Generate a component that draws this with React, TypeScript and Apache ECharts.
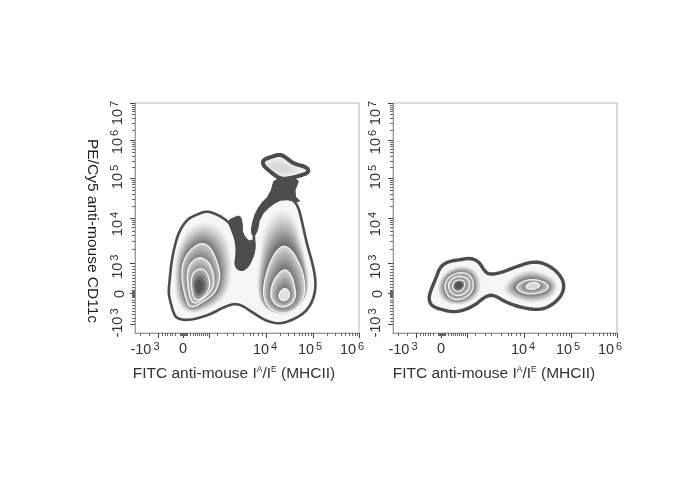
import React, { useEffect, useRef } from "react";
import * as echarts from "echarts";

type P = number[][];

// Channel scale: both plots run 0-672 across and 0-690 up.
const xMajorTicks = [70, 145, 223, 393, 535, 672];
const xMinorTicks = [15, 42, 82, 90, 97, 105, 113, 120, 135, 138, 141, 144, 147, 150, 153, 156, 165, 174, 180, 186, 192, 198, 204, 210, 216, 247, 277, 295, 325, 345, 355, 370, 382, 435, 459, 477, 492, 503, 512, 520, 528, 576, 600, 618, 630, 642, 651, 660, 666];
const yMajorTicks = [25, 118, 210, 345, 464, 577, 688];
const yMinorTicks = [36, 45, 57, 66, 75, 84, 93, 99, 108, 111, 114, 117, 120, 123, 126, 129, 138, 147, 156, 165, 174, 183, 192, 201, 252, 276, 294, 306, 318, 327, 333, 339, 381, 402, 417, 429, 438, 445, 451, 457, 496, 516, 531, 543, 552, 559, 565, 571, 609, 630, 645, 655, 664, 672, 678, 683];
const xLabelSpots = [30, 144, 390, 525, 651];
const xLabelTexts = ["-10{s|3}", "0", "10{s|4}", "10{s|5}", "{u|10}{v|6}"];
const yLabelSpots = [30, 117, 199, 327, 468, 573, 660];
const yLabelTexts = ["-10{s|3}", "0", "10{s|3}", "10{s|4}", "10{s|5}", "10{s|6}", "10{s|7}"];

// Panel 1 contours
const p1Body: P = [[101,130],[105,170],[109,210],[117,252],[127,290],[141,320],[161,344],[187,356],[215,366],[241,358],[270,342],[287,325],[300,290],[307,250],[302,210],[310,190],[330,190],[350,220],[360,260],[355,290],[363,330],[380,375],[410,398],[440,410],[470,404],[490,380],[502,330],[515,270],[535,200],[543,150],[537,105],[515,65],[475,40],[435,27],[395,35],[355,60],[310,90],[270,80],[225,55],[165,38],[127,42],[115,60],[102,110]];
const p1Blob: P = [[280,338],[295,345],[315,353],[322,330],[322,300],[340,275],[355,280],[360,260],[355,230],[335,195],[310,188],[298,205],[305,240],[302,280],[290,305]];
const p1Neck: P = [[420,468],[495,468],[475,415],[500,390],[445,403],[410,385],[375,350],[365,295],[347,295],[355,345],[375,385],[405,415]];
const p1Island: P = [[383,518],[405,527],[435,537],[455,525],[475,508],[515,498],[523,482],[495,472],[455,462],[430,465],[405,485],[385,502]];
const p1IslandCore: P = [[405,505],[440,510],[470,490],[445,480],[415,490]];
const p1LeftHalo: P = [[115,170],[123,250],[155,320],[215,345],[275,310],[295,230],[290,130],[250,80],[165,50],[120,90]];
const p1LeftC1: P = [[142,210],[165,250],[200,273],[230,255],[253,195],[255,160],[240,120],[215,100],[165,70],[150,110],[140,160]];
const p1LeftC2: P = [[155,190],[175,220],[200,228],[225,210],[238,170],[235,135],[215,110],[175,82],[160,120]];
const p1LeftC3: P = [[168,170],[185,192],[210,192],[225,160],[223,130],[205,105],[180,95],[170,125]];
const p1LeftCore: P = [[180,145],[193,160],[205,145],[200,125],[187,120]];
const p1RightHalo: P = [[360,130],[375,250],[385,330],[430,385],[475,370],[500,280],[525,170],[515,100],[455,50],[385,70]];
const p1RightC1: P = [[383,120],[393,180],[415,235],[443,265],[470,250],[493,210],[507,170],[511,120],[495,82],[465,60],[425,60],[395,80]];
const p1RightC2: P = [[405,115],[415,160],[447,195],[470,175],[480,135],[483,110],[470,85],[440,75],[415,90]];
const p1RightC3: P = [[430,115],[445,135],[460,130],[465,110],[450,95],[435,100]];

// Panel 2 contours
const p2Body: P = [[107,100],[112,125],[127,160],[142,200],[167,215],[202,220],[232,225],[257,215],[272,190],[287,175],[322,180],[372,200],[422,215],[457,208],[492,185],[512,155],[512,125],[492,95],[452,70],[402,72],[342,90],[302,115],[277,110],[242,80],[192,62],[152,68],[117,80]];
const p2LeftHalo: P = [[127,130],[147,180],[192,205],[242,200],[267,160],[262,110],[212,80],[147,90]];
const p2LeftC1: P = [[152,135],[162,165],[192,182],[227,180],[242,155],[240,125],[212,100],[172,100]];
const p2LeftC2: P = [[164,140],[172,160],[192,172],[222,168],[232,150],[227,125],[202,110],[177,115]];
const p2LeftC3: P = [[177,142],[187,158],[207,160],[217,150],[212,132],[197,123],[182,128]];
const p2LeftCore: P = [[190,150],[202,153],[209,142],[197,132],[187,138]];
const p2RightHalo: P = [[322,135],[362,180],[422,195],[482,170],[502,140],[472,95],[402,85],[342,110]];
const p2RightC1: P = [[367,138],[387,155],[417,162],[452,155],[470,140],[457,125],[417,115],[382,122]];
const p2RightC2: P = [[397,142],[417,153],[437,150],[442,140],[422,130],[402,132]];

type Band = { outer: P; inner?: P; c0?: number; c1?: number; gamma?: number; fill?: string; stroke?: string; width?: number; rounds?: number };

const WHITE_LINE = "#f2f2f2";
const DARK = "#4c4c4c";

const panel1: Band[] = [
  { outer: p1Body, fill: "#f6f6f6" },
  { outer: p1LeftHalo, inner: p1LeftC1, c0: 246, c1: 105, gamma: 1.25 },
  { outer: p1RightHalo, inner: p1RightC1, c0: 246, c1: 95, gamma: 1.25 },
  { outer: p1LeftC1, inner: p1LeftC2, c0: 205, c1: 125, stroke: WHITE_LINE, width: 1.3 },
  { outer: p1LeftC2, inner: p1LeftC3, c0: 215, c1: 140, stroke: WHITE_LINE, width: 1.3 },
  { outer: p1LeftC3, inner: p1LeftCore, c0: 190, c1: 85, stroke: WHITE_LINE, width: 1.3 },
  { outer: p1RightC1, inner: p1RightC2, c0: 215, c1: 110, stroke: WHITE_LINE, width: 1.3 },
  { outer: p1RightC2, inner: p1RightC3, c0: 215, c1: 115, stroke: WHITE_LINE, width: 1.3 },
  { outer: p1RightC3, inner: p1RightC3, c0: 225, c1: 225, stroke: WHITE_LINE, width: 1.3 },
  { outer: p1Body, fill: "none", stroke: DARK, width: 2.6 },
  { outer: p1Blob, fill: DARK, stroke: DARK, width: 1, rounds: 1 },
  { outer: p1Neck, fill: DARK, stroke: DARK, width: 1, rounds: 1 },
  { outer: p1Island, inner: p1IslandCore, c0: 252, c1: 218, stroke: DARK, width: 4 },
];

const panel2: Band[] = [
  { outer: p2Body, fill: "#f6f6f6" },
  { outer: p2LeftHalo, inner: p2LeftC1, c0: 246, c1: 105, gamma: 1.2 },
  { outer: p2RightHalo, inner: p2RightC1, c0: 246, c1: 100, gamma: 1.2 },
  { outer: p2LeftC1, inner: p2LeftC2, c0: 205, c1: 125, stroke: WHITE_LINE, width: 1.2 },
  { outer: p2LeftC2, inner: p2LeftC3, c0: 205, c1: 130, stroke: WHITE_LINE, width: 1.2 },
  { outer: p2LeftC3, inner: p2LeftCore, c0: 180, c1: 80, stroke: WHITE_LINE, width: 1.2 },
  { outer: p2RightC1, inner: p2RightC2, c0: 205, c1: 120, stroke: WHITE_LINE, width: 1.2 },
  { outer: p2RightC2, inner: p2RightC2, c0: 215, c1: 215, stroke: WHITE_LINE, width: 1.2 },
  { outer: p2Body, fill: "none", stroke: DARK, width: 3.4 },
];

const STEPS = 18;
const SAMPLES = 72;

function chaikin(pts: P, rounds: number): P {
  let out = pts;
  for (let r = 0; r < rounds; r++) {
    const next: P = [];
    for (let i = 0; i < out.length; i++) {
      const a = out[i];
      const b = out[(i + 1) % out.length];
      next.push([a[0] * 0.75 + b[0] * 0.25, a[1] * 0.75 + b[1] * 0.25]);
      next.push([a[0] * 0.25 + b[0] * 0.75, a[1] * 0.25 + b[1] * 0.75]);
    }
    out = next;
  }
  return out;
}

function resample(pts: P, n: number): P {
  let top = 0;
  pts.forEach((p, i) => { if (p[1] < pts[top][1]) top = i; });
  const ring = pts.slice(top).concat(pts.slice(0, top));
  const closed = ring.concat([ring[0]]);
  const lens = [0];
  for (let i = 1; i < closed.length; i++) lens.push(lens[i - 1] + Math.hypot(closed[i][0] - closed[i - 1][0], closed[i][1] - closed[i - 1][1]));
  const total = lens[lens.length - 1];
  const out: P = [];
  let j = 0;
  for (let k = 0; k < n; k++) {
    const d = (total * k) / n;
    while (j < lens.length - 2 && lens[j + 1] < d) j++;
    const t = (d - lens[j]) / (lens[j + 1] - lens[j] || 1);
    out.push([closed[j][0] + (closed[j + 1][0] - closed[j][0]) * t, closed[j][1] + (closed[j + 1][1] - closed[j][1]) * t]);
  }
  return out;
}

const gray = (v: number) => {
  const c = Math.round(v);
  return `rgb(${c},${c},${c})`;
};

function makeRender(bands: Band[]) {
  return (params: any, api: any) => {
    const band = bands[api.value(2)];
    const toPx = (pts: P) => pts.map((p) => api.coord(p));
    const smooth = chaikin(toPx(band.outer), band.rounds ?? 2);
    const children: any[] = [];
    if (band.inner && band.c0 !== undefined && band.c1 !== undefined) {
      const a = resample(smooth, SAMPLES);
      const b = resample(chaikin(toPx(band.inner), 2), SAMPLES);
      for (let s = 0; s < STEPS; s++) {
        const t = s / (STEPS - 1);
        const pts = a.map((p, i) => [p[0] + (b[i][0] - p[0]) * t, p[1] + (b[i][1] - p[1]) * t]);
        children.push({
          type: "polygon",
          silent: true,
          shape: { points: pts },
          style: { fill: gray(band.c0 + (band.c1 - band.c0) * Math.pow(t, band.gamma ?? 0.9)) },
        });
      }
    } else if (band.fill && band.fill !== "none") {
      children.push({ type: "polygon", silent: true, shape: { points: smooth }, style: { fill: band.fill } });
    }
    if (band.stroke) {
      children.push({
        type: "polygon",
        silent: true,
        shape: { points: smooth },
        style: { fill: band.fill === DARK ? DARK : "none", stroke: band.stroke, lineWidth: band.width, lineJoin: "round" },
      });
    }
    return { type: "group", children };
  };
}

const labelRich = {
  s: { fontSize: 11, padding: [0, 0, 7, 2], fontFamily: "Liberation Sans", color: "#333" },
  u: { fontSize: 14.5, padding: [0, 0, 3, 0], fontFamily: "Liberation Sans", color: "#333" },
  v: { fontSize: 11, padding: [0, 0, 10, 2], fontFamily: "Liberation Sans", color: "#333" },
};

const titleRich = {
  s: { fontSize: 8.5, padding: [0, 0, 6, 0], fontFamily: "Liberation Sans", fill: "#333", color: "#333" },
};

function buildAxes(i: number, kind: "x" | "y") {
  const horizontal = kind === "x";
  const base = {
    type: "value" as const,
    gridIndex: i,
    min: 0,
    max: horizontal ? 672 : 690,
    position: horizontal ? "bottom" : "left",
    splitLine: { show: false },
  };
  const majors = horizontal ? xMajorTicks : yMajorTicks;
  const minors = horizontal ? xMinorTicks : yMinorTicks;
  const spots = horizontal ? xLabelSpots : yLabelSpots;
  const texts = horizontal ? xLabelTexts : yLabelTexts;
  return [
    {
      ...base,
      axisLine: { show: true, onZero: false, lineStyle: { color: "#9a9a9a", width: 1 } },
      axisTick: { show: true, length: 5, customValues: majors, lineStyle: { color: "#444", width: 1 } },
      axisLabel: { show: false },
    },
    {
      ...base,
      axisLine: { show: false, onZero: false },
      axisTick: { show: true, length: 3, customValues: minors, lineStyle: { color: "#666", width: 1 } },
      axisLabel: { show: false },
    },
    {
      ...base,
      axisLine: { show: false, onZero: false },
      axisTick: { show: false },
      axisLabel: {
        show: true,
        customValues: spots,
        hideOverlap: false,
        showMinLabel: true,
        showMaxLabel: true,
        rotate: horizontal ? 0 : 90,
        margin: horizontal ? 7 : 9,
        color: "#333",
        fontSize: 14.5,
        fontFamily: "Liberation Sans",
        rich: labelRich,
        formatter: (v: number) => texts[spots.indexOf(v)] ?? "",
      },
    },
  ];
}

const bandRow = (list: Band[]) =>
  list.map((b, idx) => {
    const cx = b.outer.reduce((t, p) => t + p[0], 0) / b.outer.length;
    const cy = b.outer.reduce((t, p) => t + p[1], 0) / b.outer.length;
    return [cx, cy, idx];
  });

const xTitle = "FITC anti-mouse I{s|A}/I{s|E} (MHCII)";
const yTitle = "PE/Cy5 anti-mouse CD11c";
const titleFont = "15.5px 'Liberation Sans'";

export default function App() {
  const ref = useRef<HTMLDivElement>(null);
  useEffect(() => {
    document.body.style.margin = "0";
    document.body.style.background = "#fff";
    const chart = echarts.init(ref.current!, null, { renderer: "svg" });
    chart.setOption({
      animation: false,
      backgroundColor: "#ffffff",
      grid: [
        { left: 135, top: 103, width: 224, height: 230, show: true, borderColor: "#b5b5b5", borderWidth: 1, backgroundColor: "#fff" },
        { left: 393, top: 103, width: 224, height: 230, show: true, borderColor: "#b5b5b5", borderWidth: 1, backgroundColor: "#fff" },
      ],
      xAxis: [...buildAxes(0, "x"), ...buildAxes(1, "x")],
      yAxis: [...buildAxes(0, "y"), ...buildAxes(1, "y")],
      series: [
        { type: "custom", xAxisIndex: 0, yAxisIndex: 0, silent: true, clip: false, renderItem: makeRender(panel1), data: bandRow(panel1), encode: { x: 0, y: 1 } },
        { type: "custom", xAxisIndex: 3, yAxisIndex: 3, silent: true, clip: false, renderItem: makeRender(panel2), data: bandRow(panel2), encode: { x: 0, y: 1 } },
      ],
      graphic: [
        { type: "text", x: 234, y: 372, silent: true, style: { text: xTitle, rich: titleRich, font: titleFont, fill: "#333", align: "center", verticalAlign: "middle" } },
        { type: "text", x: 494, y: 372, silent: true, style: { text: xTitle, rich: titleRich, font: titleFont, fill: "#333", align: "center", verticalAlign: "middle" } },
        { type: "text", x: 93, y: 231, rotation: -Math.PI / 2, silent: true, style: { text: yTitle, font: titleFont, fill: "#222", align: "center", verticalAlign: "middle" } },
      ],
    });
    return () => chart.dispose();
  }, []);
  return <div ref={ref} style={{ width: 688, height: 490, filter: "blur(0.4px)" }} />;
}
